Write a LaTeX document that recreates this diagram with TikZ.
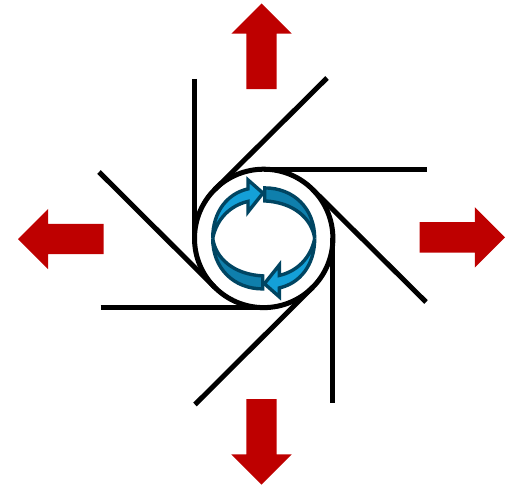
\documentclass[tikz,border=0pt]{standalone}
\usepackage{xcolor}
\usepackage{tikz}
\usetikzlibrary{shapes.arrows}
\definecolor{arrowred}{HTML}{BE0000}
\definecolor{swirldark}{HTML}{004562}
\definecolor{swirlmid}{HTML}{0F7FAC}
\definecolor{swirllight}{HTML}{14A0D8}

\begin{document}
\begin{tikzpicture}[
        x=1pt,y=-1pt,
        hubcirc/.style={circle,draw,fill=white,line width=5pt,inner sep=0pt,outer sep=0pt,minimum size=138.4pt},
        blade/.style={line width=5pt},
        outflow/.style={single arrow,fill=arrowred,inner xsep=0pt,inner ysep=15pt,outer sep=0pt,minimum height=85.5pt,
            single arrow head extend=15pt,single arrow head indent=0pt,anchor=tip},
        swirl/.style={draw=swirldark,line width=3.4pt,line join=miter}]
        \useasboundingbox (0,0) rectangle (506,487);
        \node[hubcirc] (hub) at (263.7,238.4) {};
        % free ends of the blades
        \coordinate (endn) at (hub.west |- 0,79);
        \coordinate (endne) at (327,78);
        \coordinate (ende) at (426.5,0 |- hub.north);
        \coordinate (endse) at (426,302);
        \coordinate (ends) at (hub.east |- 0,402.5);
        \coordinate (endsw) at (195,404.5);
        \coordinate (endw) at (100.5,0 |- hub.south);
        \coordinate (endnw) at (99,172);
        \draw[blade] (endn) -- (hub.west);
        \draw[blade] (endne) -- (hub.135);
        \draw[blade] (ende) -- (hub.north);
        \draw[blade] (endse) -- (hub.45);
        \draw[blade] (ends) -- (hub.east);
        \draw[blade] (endsw) -- (hub.-45);
        \draw[blade] (endw) -- (hub.south);
        \draw[blade] (endnw) -- (hub.-135);
        % red arrows round the outside
        \node[outflow,rotate=90] (outn) at (261.5,3.5) {};
        \node[outflow] (oute) at (505,237.3) {};
        \node[outflow,rotate=-90] (outs) at (261.5,484.5) {};
        \node[outflow,rotate=180] (outw) at (18,239) {};
        % rotation symbol, two identical halves
        \foreach \turn in {0,180}{
            \begin{scope}[shift={(hub.center)},rotate=\turn]
                \fill[swirlmid,swirl] (1,-50.5) .. controls (30,-50.5) and (51,-30) .. (51,0)
                    .. controls (48,-20) and (30,-36) .. (1,-37.5) -- cycle;
                \fill[swirllight,swirl] (-51,0) .. controls (-51,-27) and (-36,-45) .. (-15.7,-49.5)
                    -- (-15.7,-58.5) -- (-0.7,-45.3) -- (-15.7,-26.5) -- (-15.7,-37)
                    .. controls (-33,-33) and (-47,-20) .. (-51,0) -- cycle;
            \end{scope}
        }
    \end{tikzpicture}
\end{document}
